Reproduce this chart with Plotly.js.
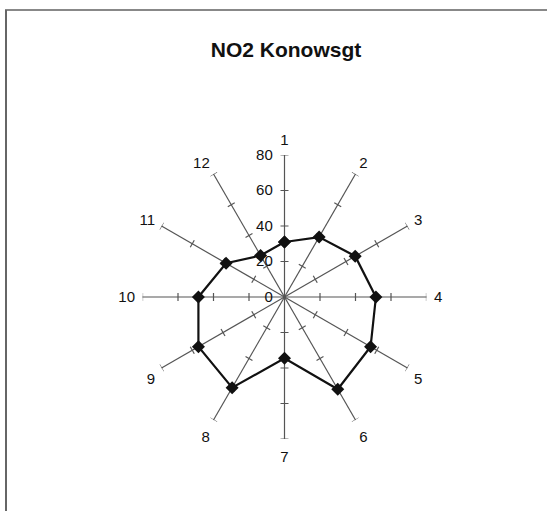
<!DOCTYPE html>
<html>
<head>
<meta charset="utf-8">
<script src="https://cdn.plot.ly/plotly-3.0.1.min.js"></script>
<style>html,body{margin:0;padding:0;background:#fff;}#chart{width:547px;height:511px;}</style>
</head>
<body>
<div id="chart"></div>
<script>
// Data
const directions = ['1','2','3','4','5','6','7','8','9','10','11','12'];
const no2Values = [31, 39, 46, 51.5, 56, 60, 34.5, 59, 56, 48.5, 38, 27];
const radialTicks = [0, 20, 40, 60, 80];
const spokeTicks = [20, 40, 60, 80];

const W = 547, H = 511;
const cx = 284.5, cy = 297, R = 142; // pixel centre and radius of the radar
const rMax = 80;

const angleStep = 360 / directions.length;
const thetaOf = directions.map((d, i) => i * angleStep);

// closed polygon
const thetaData = thetaOf.concat([thetaOf[0]]);
const rData = no2Values.concat([no2Values[0]]);

// small perpendicular tick marks on each spoke
const tickHalfPx = 4;
const tR = [], tT = [];
thetaOf.forEach(th => {
  spokeTicks.forEach(v => {
    const px = v / rMax * R;
    const d = Math.atan(tickHalfPx / px) * 180 / Math.PI;
    const rr = v / Math.cos(d * Math.PI / 180);
    tR.push(rr, rr, null);
    tT.push(th - d, th + d, null);
  });
});

const traces = [
  {
    type: 'scatterpolar', mode: 'lines', r: tR, theta: tT,
    line: {color: '#555', width: 1.2}, hoverinfo: 'skip', showlegend: false
  },
  {
    type: 'scatterpolar', mode: 'lines+markers', r: rData, theta: thetaData,
    line: {color: '#111', width: 2.2},
    marker: {symbol: 'diamond', size: 10, color: '#111'},
    showlegend: false
  }
];

const layout = {
  width: W, height: H,
  margin: {l: 0, r: 0, t: 0, b: 0},
  paper_bgcolor: '#fff',
  showlegend: false,
  title: {
    text: '<b>NO2 Konowsgt</b>',
    x: 286 / W, y: 1 - 50 / H, xanchor: 'center', yanchor: 'middle',
    font: {family: 'Liberation Sans, Arial, sans-serif', size: 21, color: '#111'}
  },
  font: {family: 'Liberation Sans, Arial, sans-serif', size: 15, color: '#111'},
  polar: {
    domain: {x: [(cx - R) / W, (cx + R) / W], y: [(H - cy - R) / H, (H - cy + R) / H]},
    bgcolor: '#fff',
    radialaxis: {
      range: [0, rMax], tickmode: 'array', tickvals: radialTicks,
      showgrid: false, showline: false,
      ticks: 'outside', ticklen: 6, tickcolor: 'rgba(0,0,0,0)',
      angle: 90, tickangle: 90, side: 'counterclockwise',
      tickfont: {size: 15, color: '#111'}
    },
    angularaxis: {
      type: 'linear', thetaunit: 'degrees',
      direction: 'clockwise', rotation: 90,
      tickmode: 'array', tickvals: thetaOf, ticktext: directions,
      showgrid: true, gridcolor: '#555', gridwidth: 1.2,
      showline: false, ticks: 'outside', ticklen: 4, tickcolor: 'rgba(0,0,0,0)',
      tickfont: {size: 15, color: '#111'}
    }
  },
  shapes: [
    {type: 'line', xref: 'paper', yref: 'paper', x0: 5 / W, x1: 1, y0: 1 - 10 / H, y1: 1 - 10 / H, line: {color: '#888', width: 2}},
    {type: 'line', xref: 'paper', yref: 'paper', x0: 6 / W, x1: 6 / W, y0: 1 - 10 / H, y1: 0, line: {color: '#666', width: 2}}
  ]
};

Plotly.newPlot('chart', traces, layout, {displayModeBar: false, staticPlot: true});
</script>
</body>
</html>
